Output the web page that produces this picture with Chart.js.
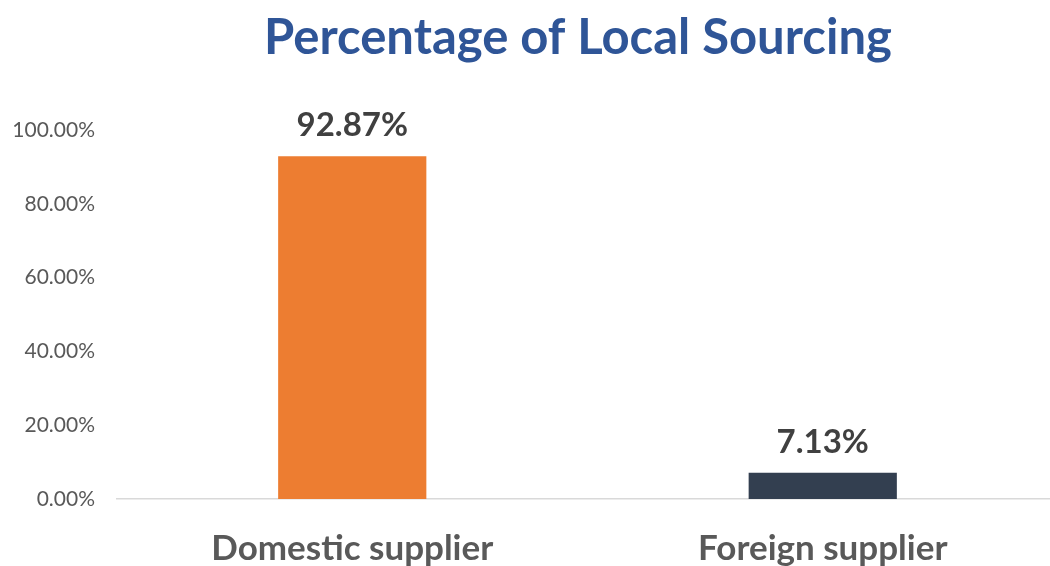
<!DOCTYPE html>
<html>
<head>
<meta charset="utf-8">
<script src="https://cdn.jsdelivr.net/npm/chart.js@4/dist/chart.umd.min.js"></script>
<style>
  html, body { margin: 0; padding: 0; background: #fff; overflow: hidden; }
  #wrap { width: 1058px; height: 566px; position: relative; }
</style>
</head>
<body>
<div id="wrap"><canvas id="chart"></canvas></div>
<script>
// Dados do gráfico
const categories = ['Domestic supplier', 'Foreign supplier'];
const shares = [92.87, 7.13];
const barColors = ['#ED7D31', '#333F50'];
const yTicks = [0, 20, 40, 60, 80, 100];
const chartTitle = 'Percentage of Local Sourcing';

// Título desenhado à mão para controlar a posição
const titlePlugin = {
    id: 'titleDraw',
    afterDraw(chart) {
        const ctx = chart.ctx;
        ctx.save();
        ctx.font = 'bold 49px Lato';
        ctx.fillStyle = '#2F5597';
        ctx.textAlign = 'center';
        ctx.textBaseline = 'middle';
        ctx.fillText(chartTitle, 578, 38);
        ctx.restore();
    }
};

// Rótulos de valor acima das barras
const valueLabels = {
    id: 'valueLabels',
    afterDatasetsDraw(chart) {
        const ctx = chart.ctx;
        const meta = chart.getDatasetMeta(0);
        ctx.save();
        ctx.font = 'bold 33px Lato';
        ctx.fillStyle = '#404040';
        ctx.textAlign = 'center';
        ctx.textBaseline = 'bottom';
        meta.data.forEach((bar, i) => {
            ctx.fillText(shares[i].toFixed(2) + '%', bar.x, bar.y - 14);
        });
        ctx.restore();
    }
};

new Chart(document.getElementById('chart'), {
    type: 'bar',
    data: {
        labels: categories,
        datasets: [{
            data: shares,
            backgroundColor: barColors,
            barPercentage: 0.315,
            categoryPercentage: 1
        }]
    },
    options: {
        responsive: true,
        maintainAspectRatio: false,
        animation: false,
        layout: { padding: { top: 130, right: 0, left: 0, bottom: 0 } },
        plugins: {
            legend: { display: false },
            tooltip: { enabled: false },
            title: { display: false }
        },
        scales: {
            x: {
                grid: { display: false },
                border: { color: '#D9D9D9', width: 1.5 },
                ticks: {
                    color: '#595959',
                    font: { family: 'Lato', size: 35, weight: 'bold' },
                    padding: 21
                },
                afterFit(scale) { scale.height = 67; }
            },
            y: {
                min: 0,
                max: 100,
                afterBuildTicks(scale) {
                    scale.ticks = yTicks.map(v => ({ value: v }));
                },
                grid: { display: false, drawTicks: false },
                border: { display: false },
                ticks: {
                    color: '#595959',
                    font: { family: 'Lato', size: 21 },
                    padding: 22,
                    callback: v => v.toFixed(2) + '%'
                },
                afterFit(scale) { scale.width = 117; }
            }
        }
    },
    plugins: [titlePlugin, valueLabels]
});
</script>
</body>
</html>
